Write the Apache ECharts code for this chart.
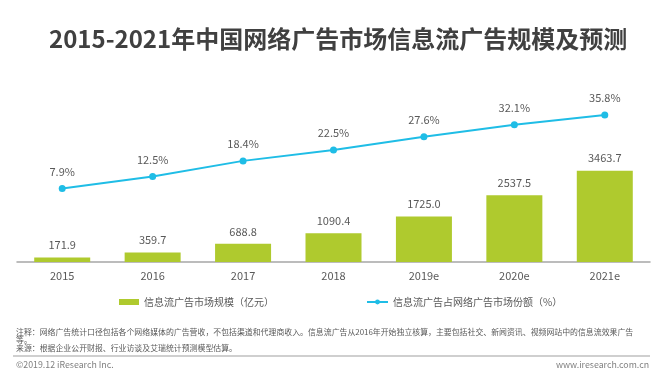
<!DOCTYPE html>
<html>
<head>
<meta charset="utf-8">
<script src="https://cdn.jsdelivr.net/npm/echarts@6/dist/echarts.min.js"></script>
<style>
html,body{margin:0;padding:0;background:#fff;}
#chart{width:656px;height:373px;}
</style>
</head>
<body>
<div id="chart"></div>
<script>
var categories = ['2015', '2016', '2017', '2018', '2019e', '2020e', '2021e'];
var marketSize = [171.9, 359.7, 688.8, 1090.4, 1725.0, 2537.5, 3463.7];
var shareValues = [7.9, 12.5, 18.4, 22.5, 27.6, 32.1, 35.8];
var titleText = '2015-2021年中国网络广告市场信息流广告规模及预测';
var seriesNames = ['信息流广告市场规模（亿元）', '信息流广告占网络广告市场份额（%）'];
var noteLine1 = '注释：网络广告统计口径包括各个网络媒体的广告营收，不包括渠道和代理商收入。信息流广告从2016年开始独立核算，主要包括社交、新闻资讯、视频网站中的信息流效果广告';
var noteLine2 = '等。';
var sourceLine = '来源：根据企业公开财报、行业访谈及艾瑞统计预测模型估算。';
var footerLeft = '©2019.12 iResearch Inc.';
var footerRight = 'www.iresearch.com.cn';

var FONT = '"Noto Sans CJK SC", "Noto Sans", sans-serif';
var chart = echarts.init(document.getElementById('chart'), null, {renderer: 'canvas'});
chart.setOption({
  backgroundColor: '#ffffff',
  animation: false,
  textStyle: {fontFamily: FONT},
  title: {
    text: titleText,
    left: 44, top: 22,
    textStyle: {fontSize: 24, fontWeight: 'bold', color: '#404040', fontFamily: FONT}
  },
  legend: [
    {
      left: 114, top: 292,
      itemWidth: 20, itemHeight: 6,
      textStyle: {fontSize: 10, color: '#595959', fontFamily: FONT},
      data: [{name: seriesNames[0], icon: 'rect'}]
    },
    {
      left: 361, top: 292,
      itemWidth: 21, itemHeight: 6,
      textStyle: {fontSize: 10, color: '#595959', fontFamily: FONT},
      data: [{name: seriesNames[1]}]
    }
  ],
  grid: {left: 17, right: 6, top: 104, bottom: 111, containLabel: false},
  xAxis: {
    type: 'category',
    data: categories,
    axisLine: {lineStyle: {color: '#a6a6a6', width: 1.5}},
    axisTick: {show: false},
    axisLabel: {color: '#595959', fontSize: 11, margin: 8, fontFamily: FONT}
  },
  yAxis: [
    {type: 'value', min: 0, max: 6000, show: false, splitLine: {show: false}},
    {type: 'value', min: -20, max: 40, show: false, splitLine: {show: false}}
  ],
  series: [
    {
      name: seriesNames[0],
      type: 'bar',
      data: marketSize,
      barWidth: 56,
      itemStyle: {color: '#afca2e'},
      label: {show: true, position: 'top', distance: 7, color: '#595959', fontSize: 11, fontFamily: FONT,
        formatter: function (p) { return p.value.toFixed(1); }}
    },
    {
      name: seriesNames[1],
      type: 'line',
      yAxisIndex: 1,
      data: shareValues,
      symbol: 'circle', symbolSize: 7,
      lineStyle: {color: '#1fbde6', width: 2},
      itemStyle: {color: '#1fbde6'},
      label: {show: true, position: 'top', distance: 8, color: '#595959', fontSize: 11, fontFamily: FONT,
        formatter: function (p) { return p.value.toFixed(1) + '%'; }}
    }
  ],
  graphic: [
    {type: 'text', left: 16, top: 328.5, style: {text: noteLine1, fontSize: 7.9, fill: '#595959', fontFamily: FONT}},
    {type: 'text', left: 16, top: 336.5, style: {text: noteLine2, fontSize: 7.9, fill: '#595959', fontFamily: FONT}},
    {type: 'text', left: 16, top: 344, style: {text: sourceLine, fontSize: 7.9, fill: '#595959', fontFamily: FONT}},
    {type: 'line', shape: {x1: 13, y1: 356, x2: 650, y2: 356}, style: {stroke: '#bfbfbf', lineWidth: 1.5}},
    {type: 'text', left: 16, top: 360, style: {text: footerLeft, fontSize: 8.8, fill: '#808080', fontFamily: FONT}},
    {type: 'text', right: 7, top: 360, style: {text: footerRight, fontSize: 8.8, fill: '#808080', fontFamily: FONT}}
  ]
});
</script>
</body>
</html>
